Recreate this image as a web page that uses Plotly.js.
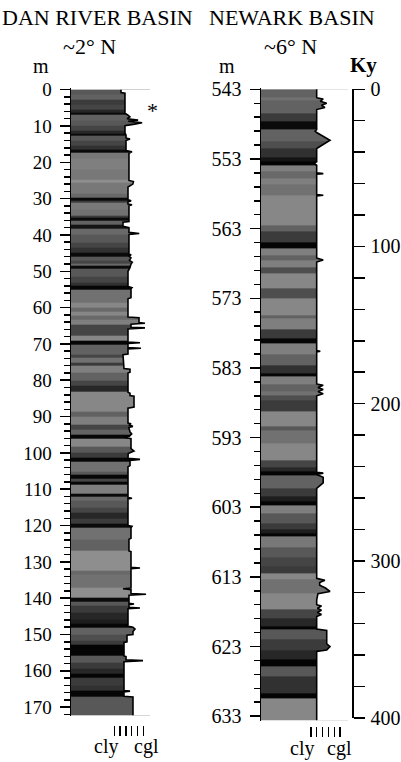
<!DOCTYPE html>
<html><head><meta charset="utf-8">
<script src="https://cdn.plot.ly/plotly-3.0.1.min.js"></script>
<style>html,body{margin:0;padding:0;background:#fff}#c{width:401px;height:762px}</style>
</head><body><div id="c"></div>
<script>
// ---- Dan River Basin (depth in m) ----
const danTop = [0,1.5,2.7,4.0,5.5,6.3,7.0,8.5,10.0,11.2,12.0,12.6,14.0,15.3,16.4,17.4,19.0,22.0,24.8,25.5,28.5,29.6,30.5,31.0,33.0,34.8,35.3,36.0,37.2,38.2,40.0,42.0,43.5,44.8,46.0,47.2,48.0,48.5,49.3,51.5,53.0,54.0,55.0,58.6,60.0,61.0,62.3,63.2,64.6,67.8,69.2,70.1,72.9,73.8,75.2,76.1,78.0,80.0,81.5,83.0,88.6,90.0,92.3,93.6,95.0,96.0,98.2,99.8,101.4,102.3,105.2,106.1,107.0,107.8,108.8,111.2,112.0,113.2,115.0,116.5,118.0,119.4,120.6,123.8,127.0,132.5,133.4,137.0,139.9,140.9,142.0,144.0,146.0,147.0,148.0,150.0,151.7,152.7,155.9,157.7,159.5,160.7,162.0,164.0,165.5,167.0];
const danShade = [0.45,0.5,0.3,0.35,0.2,0.05,0.5,0.45,0.35,0.2,0.05,0.45,0.35,0.25,0.05,0.65,0.7,0.65,0.8,0.65,0.55,0.05,0.3,0.65,0.6,0.3,0.05,0.5,0.1,0.55,0.45,0.35,0.25,0.05,0.45,0.35,0.55,0.05,0.45,0.35,0.25,0.03,0.6,0.75,0.55,0.75,0.55,0.7,0.35,0.75,0.03,0.5,0.35,0.6,0.3,0.7,0.5,0.35,0.2,0.75,0.5,0.7,0.35,0.5,0.03,0.75,0.45,0.3,0.03,0.6,0.45,0.03,0.35,0.03,0.7,0.05,0.55,0.45,0.35,0.2,0.3,0.05,0.6,0.5,0.8,0.55,0.6,0.8,0.05,0.45,0.3,0.2,0.15,0.03,0.5,0.4,0.3,0.02,0.45,0.3,0.2,0.02,0.3,0.25,0.03,0.45];
const danBase = 172.3;
const danProfDepth = [0,0.8,1.0,3,3.5,4,6.5,7.0,7.5,8.0,8.4,8.7,9.1,9.5,9.9,12.0,12.5,13.3,13.6,14,16.8,17.1,17.5,25.0,25.3,26,26.8,30.3,30.6,30.9,31.5,31.7,32,36.3,36.5,37.6,38,39.3,39.6,39.9,45.2,45.5,45.8,46.3,47,47.5,48,49,50,54.2,54.5,54.8,57.3,57.6,62.6,62.8,64.1,64.3,64.6,65.4,65.6,65.9,69.5,69.7,69.9,71.0,71.2,71.4,72.8,73.0,76.0,76.8,77.0,77.8,78.0,83.3,83.6,84.2,84.4,87.4,87.7,91.8,92.0,92.3,92.7,93.0,94.2,94.8,95.4,95.7,96.1,98.8,99.5,100.2,101.5,101.8,102.1,103.5,103.8,112.3,112.5,112.7,120.0,120.2,120.6,123.5,123.8,127,127.2,131.5,131.7,131.9,137.2,137.4,137.7,138.7,138.9,139.2,141.4,141.6,141.8,142.5,142.7,142.9,147.4,147.6,148.0,148.5,149.2,150,150.2,152,152.2,155.9,156.1,157.0,157.2,157.5,165.4,165.6,165.8,167.0,167.2,172.3];
const danProfGrain = [2.16,2.16,2.84,2.84,2.95,2.84,2.84,3.36,3.7,3.2,5.1,3.4,5.8,4.5,2.84,2.84,3.02,3.02,3.7,3.02,3.02,4.05,3.53,3.53,4.3,4.2,3.36,3.36,3.9,3.36,3.36,4.05,3.53,3.53,2.5,2.5,3.53,3.53,5.3,3.53,3.53,3.9,3.53,3.88,3.6,4.1,3.88,3.7,3.36,3.36,4.05,3.88,3.88,3.36,3.36,5.26,5.26,6.29,3.88,3.88,6.29,3.36,3.36,5.43,3.36,3.36,5.6,3.36,3.36,2.5,2.67,2.67,3.71,3.71,3.36,3.36,3.71,3.71,4.4,4.4,3.36,3.36,3.9,3.5,4.2,3.5,3.7,4.0,3.6,2.7,3.88,3.88,4.4,3.4,3.36,5.43,3.71,3.71,3.36,3.36,4.05,3.36,3.36,4.05,3.88,3.88,3.53,3.53,3.88,3.88,5.43,3.88,3.88,2.5,3.88,3.88,6.47,3.53,3.53,4.4,3.53,3.53,5.43,3.36,3.36,3.02,4.22,4.57,4.22,4.22,3.19,3.19,2.67,2.67,3.02,3.02,5.95,2.67,2.67,3.71,2.67,2.67,4.22,4.22];
const danTicks = [0,10,20,30,40,50,60,70,80,90,100,110,120,130,140,150,160,170];

// ---- Newark Basin (depth in m) ----
const newTop = [543.0,544.2,544.6,546.4,547.6,548.8,550.5,551.5,552.8,553.4,553.9,554.8,555.8,556.7,558.2,562.5,563.4,564.9,565.8,566.8,567.5,568.5,569.4,571.6,573.0,575.4,575.9,577.5,578.7,579.5,581.1,582.6,583.8,584.2,585.4,586.3,587.0,587.6,589.3,591.4,591.9,593.8,596.2,597.3,597.9,598.4,600.3,601.5,602.2,602.7,603.9,605.3,606.2,606.7,607.2,608.7,610.2,611.5,612.5,613.4,615.4,617.7,619.0,620.1,620.6,622.0,623.5,624.9,625.9,627.3,629.7,630.4];
const newShade = [0.5,0.6,0.5,0.3,0.05,0.5,0.4,0.25,0.1,0.02,0.7,0.55,0.7,0.6,0.75,0.5,0.3,0.02,0.7,0.5,0.7,0.4,0.75,0.4,0.75,0.5,0.7,0.3,0.03,0.7,0.5,0.25,0.03,0.7,0.5,0.6,0.4,0.3,0.75,0.45,0.6,0.75,0.35,0.2,0.02,0.5,0.3,0.15,0.02,0.7,0.45,0.3,0.15,0.02,0.65,0.45,0.35,0.3,0.75,0.6,0.75,0.35,0.2,0.02,0.45,0.3,0.2,0.02,0.45,0.25,0.02,0.75];
const newBase = 633.6;
const newProfDepth = [543.0,544.2,544.4,544.7,545.0,545.3,545.6,545.9,548.8,549.0,549.2,550.3,551.5,553.4,553.6,553.9,555.0,555.1,555.2,558.1,558.2,558.3,567.2,567.5,567.8,580.5,580.6,580.7,585.3,585.5,585.8,586.1,586.4,586.7,587.0,598.0,598.1,598.3,598.7,599.5,600.3,613.2,613.5,613.8,614.2,614.6,615.1,615.4,616.3,617.0,617.2,617.5,617.8,618.1,618.4,618.7,620.5,620.7,622.6,623.0,623.5,623.7,633.6];
const newProfGrain = [1.98,1.98,3.1,2.6,3.7,2.8,3.4,1.98,1.98,1.7,1.98,4.28,1.98,1.98,1.5,1.98,1.98,3.12,1.98,1.98,3.12,1.98,1.98,3.1,1.98,1.98,2.6,1.98,1.98,3.1,2.2,3.1,2.2,3.1,1.98,1.98,3.12,1.98,3.1,3.1,1.98,1.98,3.4,2.5,2.5,3.5,4.28,2.2,1.98,1.98,2.8,2.1,2.8,2.1,2.8,1.98,1.98,3.71,3.71,4.28,3.71,1.98,1.98];
const newTicks = [543,553,563,573,583,593,603,613,623,633];

// ---- Age scale (Ky) ----
const kyTicks = [0,100,200,300,400];
const grainTicks = [1,2,3,4,5,6];

const W = 401, H = 762;
const px = v => v / W, py = v => 1 - v / H;
const FONT = "Liberation Serif, Times New Roman, serif";
const gMinL = 1 + (71 - 114.3) / 5.8, gMaxL = 1 + (150 - 114.3) / 5.8;
const gMinR = 1 + (261 - 311) / 5.8, gMaxR = 1 + (348 - 311) / 5.8;
const cs = [[0, '#000000'], [0.5, '#626262'], [1, '#ababab']];

function column(tops, shades, base, gmin, gmax, xa, ya) {
  return {type: 'heatmap', x: [gmin, gmax], y: tops.concat([base]),
    z: shades.map(s => [s]), colorscale: cs, zmin: 0, zmax: 1,
    showscale: false, hoverinfo: 'skip', xaxis: xa, yaxis: ya};
}
function mask(depths, gmax, xa, ya) {
  return {type: 'scatter', mode: 'lines', x: depths.map(() => gmax), y: depths,
    line: {width: 0, color: 'rgba(0,0,0,0)'}, hoverinfo: 'skip', xaxis: xa, yaxis: ya};
}
function profile(depths, grains, xa, ya) {
  return {type: 'scatter', mode: 'lines', x: grains, y: depths, fill: 'tonextx',
    fillcolor: '#ffffff', line: {width: 1.6, color: '#000'}, hoverinfo: 'skip', xaxis: xa, yaxis: ya};
}

const traces = [
  column(danTop, danShade, danBase, gMinL, gMaxL, 'x', 'y'),
  mask(danProfDepth, gMaxL, 'x', 'y'),
  profile(danProfDepth, danProfGrain, 'x', 'y'),
  column(newTop, newShade, newBase, gMinR, gMaxR, 'x2', 'y2'),
  mask(newProfDepth, gMaxR, 'x2', 'y2'),
  profile(newProfDepth, newProfGrain, 'x2', 'y2'),
  {type: 'scatter', mode: 'lines', x: [0, 0], y: [kyTicks[0], kyTicks[kyTicks.length - 1]],
   line: {color: 'rgba(0,0,0,0)'}, hoverinfo: 'skip', xaxis: 'x3', yaxis: 'y3'}
];

const grainAxis = (dom, range, pos) => ({domain: dom, range: range, anchor: 'free', position: pos,
  tickmode: 'array', tickvals: grainTicks, showticklabels: false, ticks: 'outside', ticklen: 10,
  tickwidth: 1.4, tickcolor: '#000', showline: false, showgrid: false, zeroline: false});
const depthAxis = (dom, range, tv, tick0, anchor, fs) => ({domain: dom, range: range, anchor: anchor,
  tickmode: 'array', tickvals: tv,
  ticks: 'outside', ticklen: 10, tickwidth: 1.5, tickcolor: '#000', showline: true, linewidth: 1.5,
  linecolor: '#000', showgrid: false, zeroline: false, tickfont: {family: FONT, size: fs, color: '#000'}, ticklabelstandoff: 4,
  minor: {tickmode: 'linear', tick0: tick0, dtick: 2, ticks: 'outside', ticklen: 6, tickwidth: 1.5, tickcolor: '#000', showgrid: false}});

const ann = (text, x, y, size, bold) => ({text: bold ? '<b>' + text + '</b>' : text, x: px(x), y: py(y),
  xref: 'paper', yref: 'paper', xanchor: 'center', yanchor: 'middle', showarrow: false,
  font: {family: FONT, size: size, color: '#000'}});

const layout = {
  width: W, height: H, margin: {l: 0, r: 0, t: 0, b: 0},
  font: {family: FONT},
  paper_bgcolor: '#fff', plot_bgcolor: 'rgba(0,0,0,0)', showlegend: false,
  xaxis: grainAxis([px(71), px(150)], [gMinL, gMaxL], py(725)),
  yaxis: depthAxis([py(715.5), py(88)], [172.3, -0.45], danTicks, 0, 'x', 19),
  xaxis2: grainAxis([px(261), px(348)], [gMinR, gMaxR], py(726)),
  yaxis2: depthAxis([py(720.7), py(88.3)], [633.65, 542.85], newTicks, 543, 'x2', 20),
  xaxis3: {domain: [0.8, px(352)], range: [0, 1], visible: false},
  yaxis3: {domain: [py(718), py(89.3)], range: [400, 0], anchor: 'x3', side: 'right',
    tickmode: 'array', tickvals: kyTicks, ticks: 'outside', ticklen: 11, tickwidth: 1.5, tickcolor: '#000',
    showline: true, linewidth: 1.5, linecolor: '#000', showgrid: false, zeroline: false, tickfont: {family: FONT, size: 20, color: '#000'},
    ticklabelstandoff: 2,
    minor: {tickmode: 'linear', tick0: 0, dtick: 20, ticks: 'outside', ticklen: 11, tickwidth: 1.5, tickcolor: '#000', showgrid: false}},
  annotations: [
    ann('DAN RIVER BASIN', 97.5, 17, 22),
    ann('NEWARK BASIN', 292, 17, 22),
    ann('~2° N', 89, 46, 22),
    ann('~6° N', 290, 46, 22),
    ann('m', 41, 66, 20),
    ann('m', 227, 66, 20),
    ann('Ky', 363, 65, 21, true),
    ann('*', 152, 111, 22),
    ann('cly', 106, 746, 20),
    ann('cgl', 146, 746, 20),
    ann('cly', 302, 748, 20),
    ann('cgl', 339, 748, 20)
  ]
};
Plotly.newPlot('c', traces, layout, {staticPlot: true, displayModeBar: false});
</script></body></html>
